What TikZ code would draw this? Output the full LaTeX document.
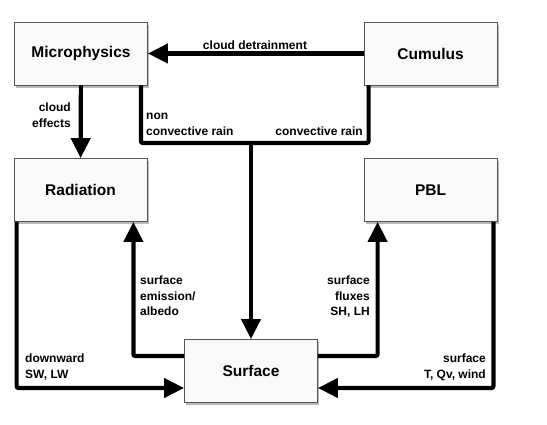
\documentclass[tikz,border=0pt]{standalone}
\usepackage{fontspec}
\setmainfont{Liberation Sans}
\usepackage{tikz}
\usetikzlibrary{arrows.meta, positioning, calc, shadows}
\definecolor{boxedge}{HTML}{555555}
\definecolor{boxfill}{HTML}{F9F9F9}
\definecolor{shadowgray}{HTML}{8A8A8A}

\begin{document}
\begin{tikzpicture}[x=1pt, y=-1pt,
    module/.style={rectangle, draw=boxedge, line width=0.8pt, fill=boxfill, minimum width=133pt, minimum height=63pt, font=\fontsize{15.5}{18}\selectfont\bfseries, drop shadow={shadow xshift=1.5pt, shadow yshift=-2.5pt, fill=shadowgray, opacity=0.6}},
    arrow/.style={-{Triangle[length=20pt, width=19pt]}, line width=4.2pt, rounded corners=2pt},
    link/.style={line width=4.2pt, rounded corners=2pt},
    tag/.style={font=\fontsize{12}{15.5}\selectfont\bfseries, inner sep=0pt}
]
\useasboundingbox (0,0) rectangle (547,424);

% Modules
\node[module] (micro) at (81,53.5) {Microphysics};
\node[module] (cumu) at (430.5,53.5) {Cumulus};
\node[module] (rad) at (80.5,190) {Radiation};
\node[module] (pbl) at (430.5,190) {PBL};
\node[module] (surf) at (251,371) {Surface};

% Arrows
\coordinate (rainjoin) at (251,143);
\draw[arrow] (cumu) -- (micro);
\draw[arrow] (micro) -- (rad);
\draw[link] ([xshift=-7pt]micro.south east) |- (rainjoin) -| ([xshift=5pt]cumu.south west);
\draw[arrow] (rainjoin) -- (surf);
\draw[arrow] ([xshift=3pt]rad.south west) |- ([yshift=-17pt]surf.west);
\draw[arrow] ([yshift=15pt]surf.west) -| ([xshift=-14pt]rad.south east);
\draw[arrow] ([yshift=15pt]surf.east) -| ([xshift=14pt]pbl.south west);
\draw[arrow] ([xshift=-4pt]pbl.south east) |- ([yshift=-17pt]surf.east);

% Labels
\node[tag, anchor=base] (detrain) at (255,49) {cloud detrainment};
\node[tag, anchor=north east, align=right] (effects) at (71,103) {cloud\\effects};
\node[tag, anchor=north west, align=left] (noncon) at (146,113) {non\\convective rain};
\node[tag, anchor=base east] (conrain) at (363,135) {convective rain};
\node[tag, anchor=north west, align=left] (emission) at (140,276) {surface\\emission/\\albedo};
\node[tag, anchor=north east, align=right] (fluxes) at (370,276) {surface\\fluxes\\SH, LH};
\node[tag, anchor=north west, align=left] (downward) at (25,354) {downward\\SW, LW};
\node[tag, anchor=north east, align=right] (sfcvars) at (486,354) {surface\\T, Qv, wind};

\end{tikzpicture}
\end{document}
